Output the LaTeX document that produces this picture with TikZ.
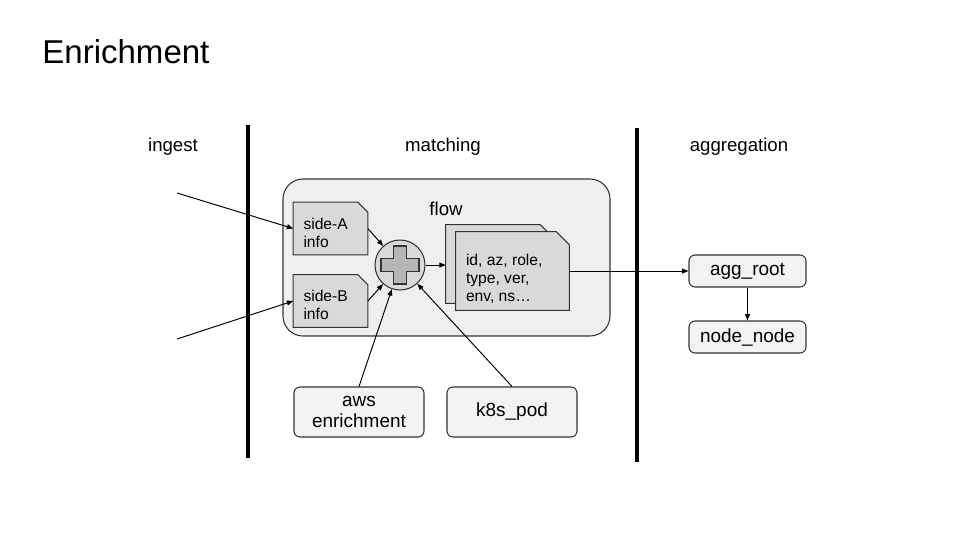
\documentclass[tikz,border=0pt]{standalone}
\usepackage{fontspec}
\setmainfont{Liberation Sans}
\usetikzlibrary{arrows.meta,backgrounds,positioning}
\definecolor{boxgray}{HTML}{F3F3F3}
\definecolor{flowgray}{HTML}{EFEFEF}
\definecolor{docgray}{HTML}{D9D9D9}
\definecolor{plusgray}{HTML}{B7B7B7}
\definecolor{edgegray}{HTML}{333333}
\tikzset{
  phase/.style={font=\fontsize{10.6}{12.6}\selectfont},
  stepbox/.style={draw=edgegray,fill=boxgray,rounded corners=1.2mm,line width=0.6pt,
    align=center,inner sep=0pt,font=\fontsize{10.8}{12.2}\selectfont},
  doctext/.style={align=left,inner sep=0pt,font=\fontsize{8.9}{10.3}\selectfont},
  docfill/.style={draw=edgegray,fill=docgray,line width=0.6pt},
  flowbox/.style={draw=edgegray,fill=flowgray,rounded corners=4mm,line width=0.6pt},
  arr/.style={-{Triangle[length=3.6pt,width=2.8pt]},line width=0.55pt},
  divider/.style={line width=1.8pt}
}
\newcommand\docshape[2]{%
  \draw[docfill] (#1.south west) -- (#1.north west) -- ([xshift=-#2]#1.north east)
    -- ([yshift=-#2]#1.north east) -- (#1.south east) -- cycle;}

\begin{document}
\begin{tikzpicture}[x=0.2mm,y=-0.2mm]
\useasboundingbox (0,0) rectangle (960,540);
% title and phases
\node[anchor=west,inner sep=0pt,font=\fontsize{18.8}{22}\selectfont] (title) at (42,52) {Enrichment};
\node[phase] (ingest) at (173,147) {ingest};
\node[phase] (matching) at (443,147) {matching};
\node[phase] (aggregation) at (739,147) {aggregation};
\draw[divider] (248,125) -- (248,458);
\draw[divider] (637,128) -- (637,462);
% flow
\node[phase] (flowlbl) at (446,209) {flow};
\node[minimum width=14.8mm,minimum height=10.4mm,inner sep=0pt] (sideA) at (330.5,228.5) {};
\node[minimum width=14.8mm,minimum height=10.4mm,inner sep=0pt] (sideB) at (330.5,301) {};
\node[minimum width=21.4mm,minimum height=15.6mm,inner sep=0pt] (attrsback) at (499.5,264) {};
\node[minimum width=22.6mm,minimum height=15.6mm,inner sep=0pt] (attrs) at (512.5,271) {};
\node[doctext,anchor=west] (sideAtxt) at ([xshift=2mm,yshift=-0.8mm]sideA.west) {side-A\\info};
\node[doctext,anchor=west] (sideBtxt) at ([xshift=2mm,yshift=-0.8mm]sideB.west) {side-B\\info};
\node[doctext,anchor=west] (attrstxt) at ([xshift=2mm,yshift=-1.6mm]attrs.west) {id, az, role,\\type, ver,\\env, ns\dots};
\node[circle,draw=edgegray,fill=docgray,line width=0.6pt,minimum size=10mm,inner sep=0pt] (merge) at (400,265) {};
\draw[fill=plusgray,draw=edgegray,line width=0.6pt] ([shift={(-6.5,-19)}]merge.center) -- ++(13,0) -- ++(0,12.5)
  -- ++(12.5,0) -- ++(0,13) -- ++(-12.5,0) -- ++(0,12.5) -- ++(-13,0) -- ++(0,-12.5)
  -- ++(-12.5,0) -- ++(0,-13) -- ++(12.5,0) -- cycle;
\begin{scope}[on background layer]
\draw[flowbox] (283,179) rectangle (610,336);
\docshape{attrsback}{2.6mm}
\docshape{attrs}{2.6mm}
\docshape{sideA}{2mm}
\docshape{sideB}{2mm}
\end{scope}
% sources and sinks
\node[stepbox,minimum width=26mm,minimum height=10mm] (aws) at (359,412) {aws\\enrichment};
\node[stepbox,minimum width=26mm,minimum height=10mm] (k8s) at (512,412) {k8s\_pod};
\node[stepbox,minimum width=23.4mm,minimum height=6.4mm] (agg) at (747.5,271) {agg\_root};
\node[stepbox,minimum width=23.4mm,minimum height=6.4mm] (nodenode) at (747.5,337) {node\_node};
% connectors
\coordinate (inA) at (177,193);
\coordinate (inB) at (177,339);
\draw[arr] (inA) -- (sideA.west);
\draw[arr] (inB) -- (sideB.west);
\draw[arr] (sideA.east) -- (merge);
\draw[arr] (sideB.east) -- (merge);
\draw[arr] (merge.east) -- (merge.east -| attrsback.west);
\draw[arr] (attrs.east) -- (agg.west);
\draw[arr] (agg) -- (nodenode);
\draw[arr] (aws.north) -- (merge);
\draw[arr] (k8s.north) -- (merge);
\end{tikzpicture}
\end{document}
